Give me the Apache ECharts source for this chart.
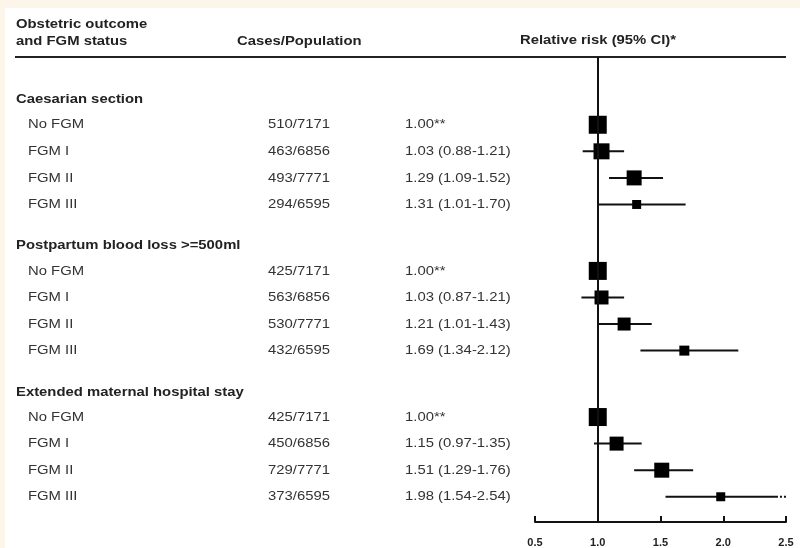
<!DOCTYPE html>
<html>
<head>
<meta charset="utf-8">
<script src="https://cdn.jsdelivr.net/npm/echarts@6/dist/echarts.min.js"></script>
<style>
  html, body { margin: 0; padding: 0; background: #fcf6ea; }
  #chart { width: 800px; height: 548px; }
</style>
</head>
<body>
<div id="chart"></div>
<script>
// ---- data ----
const groups = ['Caesarian section', 'Postpartum blood loss >=500ml', 'Extended maternal hospital stay'];
const statuses = ['No FGM', 'FGM I', 'FGM II', 'FGM III'];
const cases = [
  ['510/7171', '463/6856', '493/7771', '294/6595'],
  ['425/7171', '563/6856', '530/7771', '432/6595'],
  ['425/7171', '450/6856', '729/7771', '373/6595']
];
const rr = [
  [1.00, 1.03, 1.29, 1.31],
  [1.00, 1.03, 1.21, 1.69],
  [1.00, 1.15, 1.51, 1.98]
];
const lower = [
  [null, 0.88, 1.09, 1.01],
  [null, 0.87, 1.01, 1.34],
  [null, 0.97, 1.29, 1.54]
];
const upper = [
  [null, 1.21, 1.52, 1.70],
  [null, 1.21, 1.43, 2.12],
  [null, 1.35, 1.76, 2.54]
];
// relative weight of each estimate (marker size)
const weights = [
  [18, 16, 15, 9],
  [18, 14, 13, 10],
  [18, 14, 15, 9]
];
const xTicks = [0.5, 1.0, 1.5, 2.0, 2.5];

// ---- layout helpers (row units along the y axis) ----
const groupStride = 5.5, headerOffset = 1.6, firstRowOffset = 2.55, yMax = 17.5;
const xMin = xTicks[0], xMax = xTicks[xTicks.length - 1];

const markData = [];
const textItems = [];
groups.forEach((g, gi) => {
  const base = gi * groupStride;
  textItems.push({ row: base + headerOffset, header: true, label: g });
  statuses.forEach((s, si) => {
    const row = base + firstRowOffset + si;
    const lo = lower[gi][si], hi = upper[gi][si];
    markData.push([rr[gi][si], row, lo == null ? NaN : lo, hi == null ? NaN : hi, weights[gi][si]]);
    const rrText = rr[gi][si].toFixed(2) + (lo == null ? '**' : ' (' + lo.toFixed(2) + '-' + hi.toFixed(2) + ')');
    textItems.push({ row, header: false, label: s, cases: cases[gi][si], rrText });
  });
});

const FONT = '"Liberation Sans", Arial, Helvetica, sans-serif';
const SX = 1.1;
const BOLD = 'bold 13.5px ' + FONT;
const REG = '13.5px ' + FONT;
function txt(x, y, text, font, fill, align) {
  return { type: 'text', x: x, y: y, scaleX: SX,
           style: { x: 0, y: 0, text: text, font: font, fill: fill, align: align || 'left', verticalAlign: 'middle' } };
}
const chart = echarts.init(document.getElementById('chart'), null, { renderer: 'canvas' });

chart.setOption({
  backgroundColor: '#fcf6ea',
  animation: false,
  graphic: [
    { type: 'rect', z: -10, shape: { x: 5, y: 8, width: 795, height: 540 }, style: { fill: '#ffffff' }, silent: true },
    txt(16, 24, 'Obstetric outcome', BOLD, '#222'),
    txt(16, 41, 'and FGM status', BOLD, '#222'),
    txt(237, 41, 'Cases/Population', BOLD, '#222'),
    txt(598, 40, 'Relative risk (95% CI)*', BOLD, '#222', 'center'),
    { type: 'line', shape: { x1: 15, y1: 57, x2: 786, y2: 57 }, style: { stroke: '#222', lineWidth: 2 } }
  ],
  grid: { left: 535, right: 14, top: 57, bottom: 25 },
  xAxis: {
    type: 'value', min: xMin, max: xMax, interval: 0.5, position: 'bottom',
    axisLine: { show: true, onZero: false, lineStyle: { color: '#111', width: 2 } },
    axisTick: { show: true, inside: true, length: 6, lineStyle: { color: '#111', width: 2 } },
    axisLabel: { margin: 15, fontSize: 11, fontWeight: 'bold', color: '#222', fontFamily: FONT,
                 formatter: v => v.toFixed(1) },
    splitLine: { show: false }
  },
  yAxis: { type: 'value', inverse: true, min: 0, max: yMax, show: false },
  series: [
    {
      type: 'custom',
      data: markData,
      encode: { x: 0, y: 1 },
      clip: false,
      renderItem: function (params, api) {
        const est = api.value(0), row = api.value(1), lo = api.value(2), hi = api.value(3), size = api.value(4);
        const c = api.coord([est, row]);
        const children = [];
        if (!isNaN(lo)) {
          const p1 = api.coord([lo, row]);
          const clipped = hi > xMax;
          const solidEnd = clipped ? xMax - 0.08 : hi;
          const p2 = api.coord([solidEnd, row]);
          children.push({ type: 'line', shape: { x1: p1[0], y1: p1[1], x2: p2[0], y2: p2[1] }, style: { stroke: '#111', lineWidth: 2 } });
          if (clipped) {
            const p3 = api.coord([xMax, row]);
            children.push({ type: 'line', shape: { x1: p2[0], y1: p2[1], x2: p3[0], y2: p3[1] }, style: { stroke: '#111', lineWidth: 2, lineDash: [2, 2] } });
          }
        }
        children.push({ type: 'rect', shape: { x: c[0] - size / 2, y: c[1] - size / 2, width: size, height: size }, style: { fill: '#000' } });
        return { type: 'group', children };
      },
      markLine: {
        silent: true, symbol: 'none', label: { show: false },
        lineStyle: { color: '#111', width: 2, type: 'solid' },
        data: [{ xAxis: 1.0 }]
      },
      z: 3
    },
    {
      type: 'custom',
      data: textItems.map(t => [1, t.row]),
      encode: { x: 0, y: 1 },
      clip: false,
      renderItem: function (params, api) {
        const t = textItems[params.dataIndex];
        const y = api.coord([1, api.value(1)])[1];
        if (t.header) {
          return txt(16, y, t.label, BOLD, '#222');
        }
        return {
          type: 'group',
          children: [
            txt(28, y, t.label, REG, '#333'),
            txt(268, y, t.cases, REG, '#333'),
            txt(405, y, t.rrText, REG, '#333')
          ]
        };
      }
    }
  ]
});
</script>
</body>
</html>
